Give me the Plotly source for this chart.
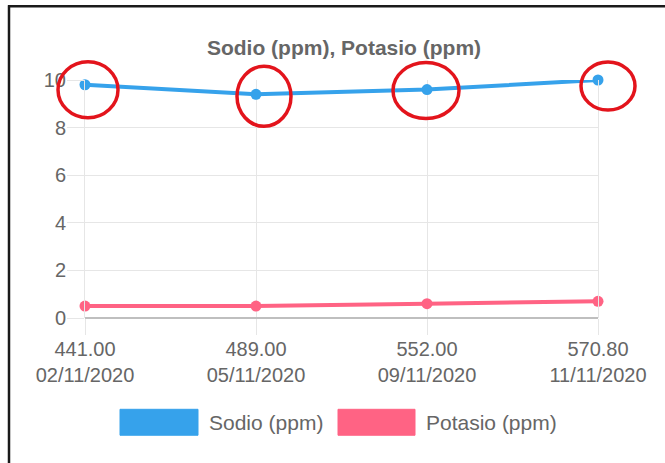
import plotly.graph_objects as go

# ---- data ----
categories = ["441.00<br>02/11/2020", "489.00<br>05/11/2020", "552.00<br>09/11/2020", "570.80<br>11/11/2020"]
sodio = [9.8, 9.4, 9.6, 10.0]
potasio = [0.5, 0.5, 0.6, 0.7]
series_names = ["Sodio (ppm)", "Potasio (ppm)"]
chart_title = "Sodio (ppm), Potasio (ppm)"
y_ticks = [0, 2, 4, 6, 8, 10]

BLUE = "#36A2EB"
PINK = "#FF6384"
GRID = "#e6e6e6"
TXT = "#666666"
FONT = "Liberation Sans, Arial, Helvetica, sans-serif"

W, H = 665, 463
L, R, T, B = 85, 67, 80, 144.5
PW = W - L - R
PH = H - T - B
X_RANGE = [0, len(categories) - 1]
Y_RANGE = [0, 10]

def px(xpix):
    return (xpix - L) / PW

def py(ypix):
    return (H - B - ypix) / PH

xs = list(range(len(categories)))

fig = go.Figure()
fig.add_trace(go.Scatter(x=xs, y=sodio, mode="lines+markers", name=series_names[0],
                         line=dict(color=BLUE, width=4), marker=dict(color=BLUE, size=11),
                         cliponaxis=False, showlegend=False))
fig.add_trace(go.Scatter(x=xs, y=potasio, mode="lines+markers", name=series_names[1],
                         line=dict(color=PINK, width=4), marker=dict(color=PINK, size=11),
                         cliponaxis=False, showlegend=False))

shapes = []
# red hand-drawn circles around Sodio points
# (screen-pixel offsets dx, dy(down) and radii rx, ry, anchored to each point via the axis scale)
circle_style = [(3, 5, 30, 28), (8, 2, 27, 30), (-1, 1, 33, 28), (10, 6, 27, 24)]
for i, (dx, dy, rx, ry) in enumerate(circle_style):
    ax = (xs[i] - X_RANGE[0]) / (X_RANGE[1] - X_RANGE[0])
    ay = (sodio[i] - Y_RANGE[0]) / (Y_RANGE[1] - Y_RANGE[0])
    shapes.append(dict(type="circle", xref="paper", yref="paper", xsizemode="pixel", ysizemode="pixel",
                       xanchor=ax, yanchor=ay,
                       x0=dx - rx, x1=dx + rx, y0=-dy - ry, y1=-dy + ry,
                       line=dict(color="#e3141c", width=3.5), layer="above"))

# outer frame (top and left black lines)
shapes.append(dict(type="line", xref="paper", yref="paper", x0=px(8), x1=px(W + 5), y0=py(6), y1=py(6),
                   line=dict(color="#1a1a1a", width=2.5)))
shapes.append(dict(type="line", xref="paper", yref="paper", x0=px(9), x1=px(9), y0=py(5), y1=py(H + 5),
                   line=dict(color="#1a1a1a", width=2.5)))

# legend boxes (Chart.js style)
legend_items = [(120, 198, 207, BLUE), (338, 415, 424, PINK)]
annotations = []
for (bx0, bx1, tx, col), name in zip(legend_items, series_names):
    shapes.append(dict(type="rect", xref="paper", yref="paper", x0=px(bx0), x1=px(bx1),
                       y0=py(436), y1=py(410), fillcolor=col,
                       line=dict(color=col, width=1), opacity=1))
    annotations.append(dict(xref="paper", yref="paper", x=px(tx), y=py(423), text=name,
                            showarrow=False, xanchor="left", yanchor="middle",
                            font=dict(family=FONT, size=21, color=TXT)))

fig.update_layout(
    width=W, height=H,
    margin=dict(l=L, r=R, t=T, b=B, pad=0),
    paper_bgcolor="white", plot_bgcolor="white",
    title=dict(text="<b>" + chart_title + "</b>", x=344 / W, xref="container", xanchor="center",
               y=1 - 48 / H, yref="container", yanchor="middle",
               font=dict(family=FONT, size=21, color=TXT)),
    xaxis=dict(range=X_RANGE, tickmode="array", tickvals=xs, ticktext=categories,
               showgrid=True, gridcolor=GRID, gridwidth=1, zeroline=False, showline=False,
               ticks="outside", ticklen=16, tickcolor=GRID, tickwidth=1, ticklabelstandoff=-3,
               tickfont=dict(family=FONT, size=20, color=TXT)),
    yaxis=dict(range=Y_RANGE, tickmode="array", tickvals=y_ticks,
               showgrid=True, gridcolor=GRID, gridwidth=1,
               zeroline=True, zerolinecolor="#bfbfbf", zerolinewidth=1.5,
               showline=True, linecolor=GRID, linewidth=1, mirror=True,
               ticks="outside", ticklen=17, tickcolor=GRID, tickwidth=1, ticklabelstandoff=-3,
               tickfont=dict(family=FONT, size=20, color=TXT)),
    shapes=shapes, annotations=annotations, showlegend=False,
)

fig.write_html("out.html")
